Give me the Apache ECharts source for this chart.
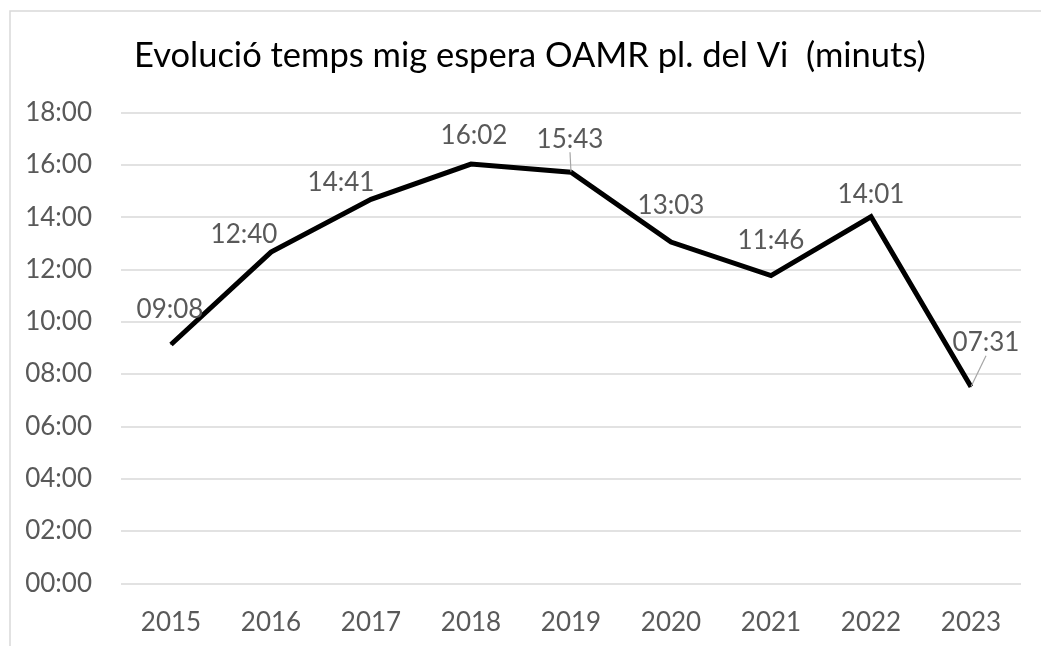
<!DOCTYPE html>
<html>
<head>
<meta charset="utf-8">
<script src="https://cdn.jsdelivr.net/npm/echarts@6/dist/echarts.min.js"></script>
<style>
html,body{margin:0;padding:0;background:#fff;}
#chart{width:1041px;height:646px;}
</style>
</head>
<body>
<div id="chart"></div>
<script>
// Data (waiting time in seconds, shown as mm:ss)
const years = ['2015','2016','2017','2018','2019','2020','2021','2022','2023'];
const waitSeconds = [548, 760, 881, 962, 943, 783, 706, 841, 451];
const yTickSeconds = [0, 120, 240, 360, 480, 600, 720, 840, 960, 1080];

// label layout offsets (style only)
const labelDx = [-1, -27, -30, 3, -1, 0, 0, 0, 15];
const labelDy = [-35, -17, -17, -28, -33, -36, -35, -22, -44];
const leaderLine = [false, false, false, false, true, false, false, false, true];

function fmt(s){
  const m = Math.floor(s/60), sec = Math.round(s - m*60);
  return String(m).padStart(2,'0') + ':' + String(sec).padStart(2,'0');
}

const FONT = 'Lato';
const chart = echarts.init(document.getElementById('chart'));
chart.setOption({
  animation: false,
  backgroundColor: '#fff',
  title: {
    text: 'Evolució temps mig espera OAMR pl. del Vi  (minuts)',
    left: 129, top: 33,
    textStyle: {fontFamily: FONT, fontSize: 34.5, fontWeight: 'normal', color: '#000'}
  },
  graphic: [{
    type: 'rect', shape: {x: 10, y: 11, width: 1100, height: 700},
    style: {fill: 'none', stroke: '#d9d9d9', lineWidth: 1.5}, silent: true
  }],
  grid: {left: 121, right: 20, top: 112.6, bottom: 62.7},
  xAxis: {
    type: 'category', data: years, boundaryGap: true,
    axisLine: {show: false}, axisTick: {show: false},
    axisLabel: {color: '#595959', fontFamily: FONT, fontSize: 26, margin: 26}
  },
  yAxis: {
    type: 'value', min: 0, max: yTickSeconds[yTickSeconds.length-1], interval: 120,
    axisLine: {show: false}, axisTick: {show: false},
    splitLine: {lineStyle: {color: '#d9d9d9', width: 1.5}},
    axisLabel: {color: '#595959', fontFamily: FONT, fontSize: 26, margin: 29, formatter: v => fmt(v)}
  },
  series: [{
    type: 'line',
    data: waitSeconds.map((v, i) => ({value: v, labelLine: {show: leaderLine[i]}})),
    symbol: 'circle', symbolSize: 1, showSymbol: true,
    itemStyle: {color: '#000'},
    lineStyle: {color: '#000', width: 5, join: 'miter'},
    label: {
      show: true, position: 'inside', color: '#595959', fontFamily: FONT, fontSize: 26,
      formatter: p => fmt(p.value)
    },
    labelLine: {lineStyle: {color: '#a6a6a6', width: 1.2}},
    labelLayout: p => ({dx: labelDx[p.dataIndex], dy: labelDy[p.dataIndex]})
  }]
});
</script>
</body>
</html>
